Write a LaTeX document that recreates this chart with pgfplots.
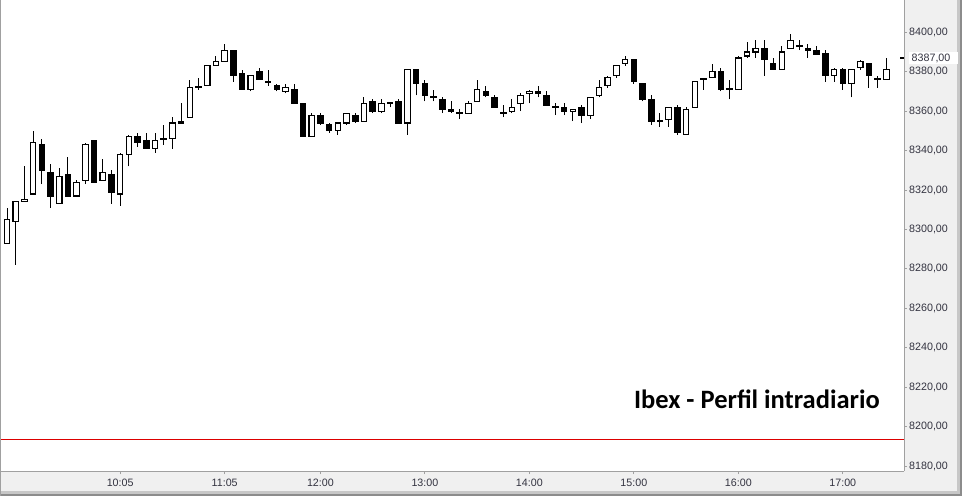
\documentclass[border=0pt]{standalone}
\usepackage{pgfplots}
\pgfplotsset{compat=1.18}
\usepackage{pgfplotstable}
\usepackage{fontspec}
\setmainfont{Liberation Sans}
\newfontfamily\titlefont{Carlito}
\definecolor{panel}{HTML}{F0F0F0}
\definecolor{frame}{HTML}{A0A0A0}
\definecolor{ticktext}{HTML}{333340}
\definecolor{lvl}{HTML}{DC0000}

% 5-minute candles, 9:00 = 0 ... 17:30 = 102
\pgfplotstableread{
i o h l c
0 8293 8311 8293 8305
1 8304 8314 8282 8314
2 8314 8332 8314 8315
3 8318 8350 8318 8344
4 8343 8346 8323 8330
5 8329 8333 8311 8317
6 8313 8331 8313 8327
7 8328 8337 8317 8317
8 8317 8325 8317 8324
9 8325 8344 8323 8343
10 8345 8345 8324 8324
11 8325 8336 8325 8329
12 8328 8330 8313 8319
13 8318 8339 8312 8338
14 8338 8348 8332 8347
15 8347 8349 8342 8344
16 8345 8349 8341 8341
17 8341 8349 8339 8345
18 8345.5 8353 8343 8346
19 8346 8357 8341 8354
20 8354 8364 8354 8355
21 8357 8376 8357 8372
22 8372 8377 8371 8372.5
23 8373 8383 8373 8383
24 8383 8388 8383 8385
25 8385 8394 8385 8391
26 8391 8391 8375 8378
27 8379 8381 8371 8371
28 8371 8378 8370 8378
29 8380 8382 8376 8376
30 8374.5 8381 8373 8375
31 8373 8374 8370 8371
32 8370 8374 8369 8372
33 8371 8374 8364 8364
34 8364 8364 8347 8347
35 8347 8359 8347 8358
36 8358 8359 8353 8354
37 8353 8354 8349 8350
38 8350 8354 8348 8354
39 8354 8359 8353 8359
40 8358 8359 8354 8355
41 8355 8367 8355 8364
42 8365 8366 8359 8360
43 8360 8366 8359 8364
44 8364 8364.5 8362 8364.5
45 8365 8366 8354 8354
46 8354 8381 8348 8381
47 8381 8381 8368 8374
48 8374 8376 8365 8368
49 8367 8371 8365 8367.5
50 8366 8367 8359 8361
51 8361 8365 8359 8360
52 8359.5 8361 8356 8359
53 8359 8365 8359 8364
54 8365 8376 8365 8371
55 8370 8373 8367 8368
56 8367 8368 8362 8362
57 8359 8363 8357 8359.5
58 8360 8366 8359 8362
59 8364 8369 8360 8368
60 8369 8371 8364 8370
61 8370 8373 8367 8369
62 8368 8370 8363 8363
63 8362 8364 8358 8362.5
64 8362 8364 8358 8360
65 8360 8361 8355 8361
66 8362 8363 8354 8358
67 8358 8367 8356 8367
68 8368 8376 8367 8372
69 8373 8378 8372 8377
70 8378 8383 8377 8383
71 8384 8388 8383 8386
72 8386 8386 8374 8375
73 8374 8374 8365 8366
74 8366 8368 8353 8355
75 8355 8359 8352 8355.5
76 8356 8362 8352 8362
77 8362 8363 8348 8349
78 8348 8362 8348 8361
79 8362 8375 8362 8375
80 8376 8377 8371 8376.5
81 8377 8384 8377 8380
82 8380 8382 8370 8371
83 8371 8376 8366 8371.5
84 8371 8388 8371 8387
85 8388 8395 8387 8390
86 8390 8396 8387 8392
87 8392 8396 8378 8386
88 8384 8387 8381 8381
89 8381 8393 8381 8390
90 8392 8399 8392 8396
91 8393 8396 8391 8393.5
92 8392 8394 8387 8391
93 8391 8393 8389 8389
94 8389 8391 8375 8378
95 8378 8382 8375 8381
96 8381 8382 8371 8374
97 8374 8381 8367 8381
98 8382 8386 8381 8385
99 8384 8384 8372 8378
100 8376 8378 8372 8376.5
101 8376 8387 8376 8381
102 8380.5 8380.5 8380.5 8380.5
}\candles

\pgfplotsset{
    chartbox/.style={
        at={(1pt,25pt)}, anchor=south west,
        width=903pt, height=471pt, scale only axis,
        xmin=-0.69, xmax=103.03,
        ymin=8177.5, ymax=8416.4,
    },
}

\begin{document}
\begin{tikzpicture}[x=1pt,y=1pt]
\path[use as bounding box] (0,0) rectangle (962,496);
\fill[black!45] (0,0) rectangle (962,496);
\fill[black!22] (0,2) rectangle (960,496);
\fill[panel] (0,5) rectangle (957,496);

% frame, ticks and wicks
\begin{axis}[
    chartbox,
    axis background/.style={fill=white},
    axis x line*=bottom, axis y line*=right,
    axis line style={frame, line width=1pt},
    tick style={frame, line width=1pt},
    tick align=outside, major tick length=3pt,
    xtick={13,25,36,48,60,72,84,96},
    xticklabels={10:05,11:05,12:00,13:00,14:00,15:00,16:00,17:00},
    ytick={8180,8200,...,8400},
    /pgf/number format/.cd, fixed, fixed zerofill, precision=2,
        use comma, 1000 sep={}, assume math mode=true,
    /pgfplots/.cd,
    xticklabel style={font=\fontsize{10.7}{12}\selectfont, text=ticktext,
        anchor=north, inner sep=0pt, yshift=-5pt},
    yticklabel style={font=\fontsize{10.7}{12}\selectfont, text=ticktext,
        anchor=west, inner sep=0pt, xshift=2pt},
    clip mode=individual,
]
    \addplot[draw=none, mark=none,
        error bars/.cd, y dir=plus, y explicit, error mark=none,
        error bar style={draw=black, line width=1pt}]
        table[x=i, y=l, y error plus expr={\thisrow{h}-\thisrow{l}}] {\candles};
    \addplot[lvl, line width=1pt] coordinates {(-0.69,8193.6) (103.03,8193.6)};
\end{axis}

% candle bodies, stacked on an invisible base
\begin{axis}[
    chartbox,
    hide axis,
    ybar stacked, bar width=0.63,
]
    \addplot[draw=none, fill=none]
        table[x=i, y expr={min(\thisrow{o},\thisrow{c})}] {\candles};
    \addplot[draw=black, fill=white, line width=1.1pt]
        table[x=i, y expr={max(\thisrow{c}-\thisrow{o},0)}] {\candles};
    \addplot[draw=black, fill=black, line width=1.1pt]
        table[x=i, y expr={max(\thisrow{o}-\thisrow{c},0)}] {\candles};
\end{axis}

% last price marker and title
\begin{axis}[
    chartbox,
    hide axis,
    clip mode=individual,
]
    \addplot[black, line width=1.6pt] coordinates {(102.57,8387) (103.03,8387)};
    \node[anchor=west, fill=white, inner xsep=2.5pt, inner ysep=0pt,
          minimum height=12pt, text width=44pt, align=left, text=ticktext,
          font=\fontsize{10.7}{12}\selectfont, xshift=5pt]
        at (axis cs:103.03,8387) {8387,00};
    \node[anchor=base east, inner sep=0pt,
          font=\titlefont\bfseries\fontsize{26.5}{30}\selectfont]
        at (rel axis cs:0.9734,0.1323) {Ibex - Perfil intradiario};
\end{axis}
\draw[frame, line width=1pt] (0.5,0) -- (0.5,496);
\end{tikzpicture}
\end{document}
